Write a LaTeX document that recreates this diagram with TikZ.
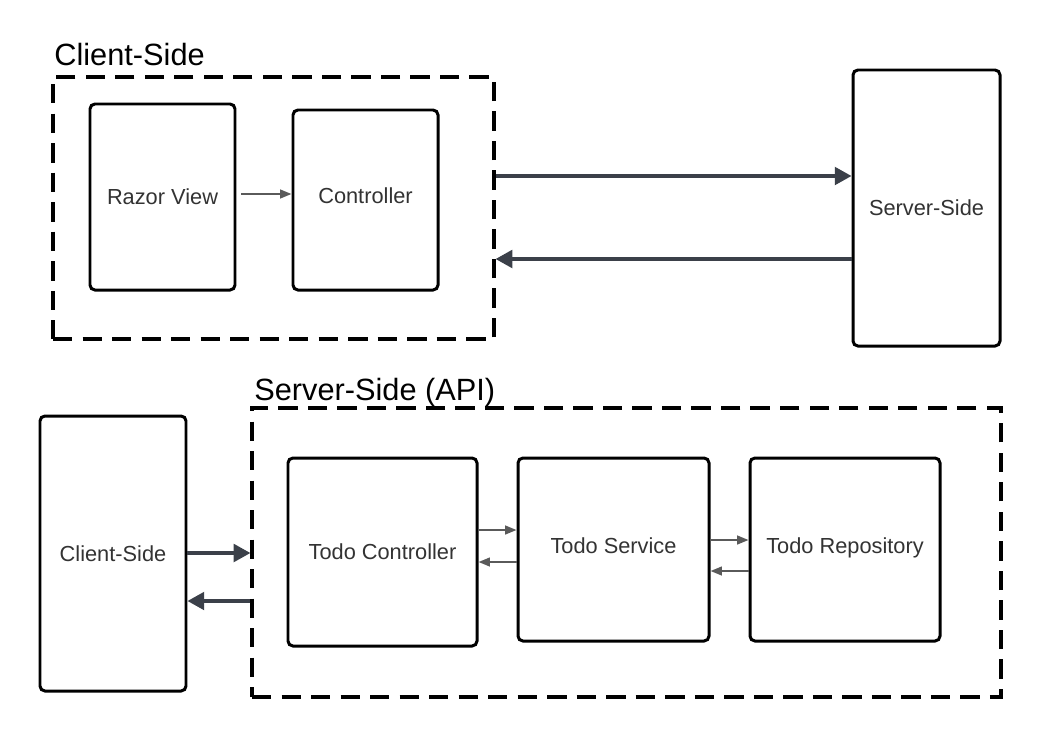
\documentclass[tikz,border=0pt]{standalone}
\usepackage{fontspec}
\setmainfont{Liberation Sans}
\usetikzlibrary{arrows.meta}
\definecolor{txt}{HTML}{333333}
\definecolor{bigarrow}{HTML}{3B4049}
\definecolor{smallarrow}{HTML}{5A5A5A}
\begin{document}
\begin{tikzpicture}[x=0.02cm, y=-0.02cm,
  sz/.style 2 args={minimum width=#1*0.02cm, minimum height=#2*0.02cm},
  box/.style={draw=black, line width=1.7pt, rounded corners=2.8pt, fill=white,
              text=txt, font=\fontsize{12.4}{14}\selectfont, inner sep=0pt},
  group/.style={draw=black, line width=1.8pt, dash pattern=on 11pt off 5.8pt, inner sep=0pt},
  title/.style={font=\fontsize{17.5}{20}\selectfont, text=black, inner sep=0pt, anchor=base west},
  bigflow/.style={draw=bigarrow, line width=1.9pt,
                  -{Triangle[length=9.5pt, width=10pt]}},
  smallflow/.style={draw=smallarrow, line width=1.1pt,
                  -{Triangle[length=6.5pt, width=5pt]}}
]
\useasboundingbox (0,0) rectangle (1047,744);

% upper half: client-side application
\node[title] (clientlabel) at (54,65) {Client-Side};
\node[group, sz={441}{262}] (client) at (273.5,208) {};
\node[box, sz={145}{186}] (razor) at (162.5,197) {Razor View};
\node[box, sz={145}{180}] (ctrl) at (365.5,200) {\raisebox{5pt}{Controller}};
\node[box, sz={147}{276}] (server) at (926.5,208) {Server-Side};

\draw[smallflow, shorten <=5pt*0.567] (razor.east |- 0,194) -- (ctrl.west |- 0,194);
\draw[bigflow] (client.east |- 0,176) -- (server.west |- 0,176);
\draw[bigflow] (server.west |- 0,259) -- (client.east |- 0,259);

% lower half: server-side API
\node[title] (apilabel) at (254,400) {Server-Side (API)};
\node[group, sz={749}{289}] (api) at (626.5,552.5) {};
\node[box, sz={146}{275}] (clientb) at (113,553.5) {Client-Side};
\node[box, sz={189}{188}] (tctrl) at (382.5,552) {Todo Controller};
\node[box, sz={191}{183}] (tsvc) at (613.5,549.5) {\raisebox{4.5pt}{Todo Service}};
\node[box, sz={190}{183}] (trepo) at (845,549.5) {\raisebox{4.5pt}{Todo Repository}};

\draw[bigflow] (clientb.east |- 0,553) -- (api.west |- 0,553);
\draw[bigflow] (api.west |- 0,601) -- (clientb.east |- 0,601);

\draw[smallflow] (tctrl.east |- 0,530) -- (tsvc.west |- 0,530);
\draw[smallflow] (tsvc.west |- 0,562) -- (tctrl.east |- 0,562);
\draw[smallflow] (tsvc.east |- 0,540) -- (trepo.west |- 0,540);
\draw[smallflow] (trepo.west |- 0,571) -- (tsvc.east |- 0,571);
\end{tikzpicture}
\end{document}
